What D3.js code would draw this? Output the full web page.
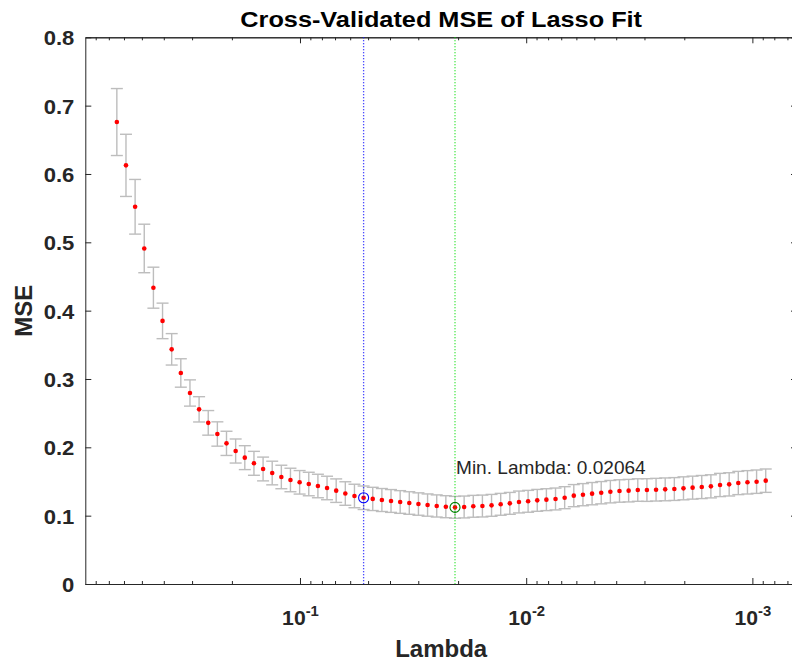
<!DOCTYPE html>
<html>
<head>
<meta charset="utf-8">
<script src="https://cdn.jsdelivr.net/npm/d3@7"></script>
<style>
  body { margin: 0; background: #fff; }
  text { font-family: "Liberation Sans", Arial, Helvetica, sans-serif; }
</style>
</head>
<body>
<div id="chart"></div>
<script>
// lambda values (x)
var lambdas = [0.6452, 0.5879, 0.5357, 0.4881, 0.4447, 0.4052, 0.3692, 0.3364, 0.3065, 0.2793,
    0.2545, 0.2319, 0.2113, 0.1925, 0.1754, 0.1598, 0.1456, 0.1327, 0.1209, 0.1102,
    0.10037, 0.091458, 0.083332, 0.075930, 0.069183, 0.063038, 0.057438, 0.052335, 0.047686, 0.043449,
    0.039590, 0.036073, 0.032868, 0.029948, 0.027287, 0.024863, 0.022655, 0.020640, 0.018808, 0.017137,
    0.015615, 0.014228, 0.012964, 0.011812, 0.010763, 0.0098067, 0.0089355, 0.0081416, 0.0074184, 0.0067593,
    0.0061589, 0.0056118, 0.0051132, 0.0046590, 0.0042450, 0.0038679, 0.0035244, 0.0032112, 0.0029260, 0.0026660,
    0.0024292, 0.0022134, 0.0020167, 0.0018376, 0.0016743, 0.0015256, 0.0013901, 0.0012666, 0.0011541, 0.0010515,
    0.00095812, 0.00087301];

// cross-validated MSE
var mse = [0.676, 0.6126, 0.552, 0.491, 0.4336, 0.385, 0.3434, 0.3088, 0.2795, 0.2556,
    0.2358, 0.2195, 0.2058, 0.1946, 0.1849, 0.1766, 0.1683, 0.1624, 0.1566, 0.1522,
    0.1488, 0.1463, 0.1434, 0.1405, 0.1366, 0.1324, 0.1288, 0.1262, 0.1245, 0.1229,
    0.1215, 0.1200, 0.1185, 0.1170, 0.1155, 0.1142, 0.1131, 0.1122, 0.1127, 0.1137,
    0.1141, 0.1151, 0.1166, 0.1180, 0.1200, 0.1210, 0.1224, 0.1234, 0.1244, 0.1263,
    0.1293, 0.1307, 0.1322, 0.1336, 0.1351, 0.1361, 0.1366, 0.1375, 0.1375, 0.1380,
    0.1385, 0.1390, 0.1400, 0.1410, 0.1419, 0.1429, 0.1449, 0.1458, 0.1478, 0.1488,
    0.1497, 0.1512];

// standard error of MSE
var se = [0.049, 0.0455, 0.040, 0.0355, 0.030, 0.026, 0.023, 0.0208, 0.0192, 0.0185,
    0.018, 0.0178, 0.0177, 0.0176, 0.0175, 0.0175, 0.0174, 0.0173, 0.0172, 0.0172,
    0.0172, 0.0172, 0.0172, 0.0172, 0.0172, 0.0172, 0.0172, 0.0172, 0.0170, 0.0168,
    0.0167, 0.0166, 0.0165, 0.0164, 0.0163, 0.0162, 0.0161, 0.0160, 0.0160, 0.0160,
    0.0160, 0.0160, 0.0160, 0.0160, 0.0160, 0.0160, 0.0160, 0.0160, 0.0160, 0.0161,
    0.0162, 0.0162, 0.0163, 0.0163, 0.0164, 0.0164, 0.0165, 0.0165, 0.0166, 0.0166,
    0.0167, 0.0167, 0.0168, 0.0168, 0.0169, 0.0169, 0.0170, 0.0170, 0.0170, 0.0171,
    0.0171, 0.0171];

var yTicks = [0, 0.1, 0.2, 0.3, 0.4, 0.5, 0.6, 0.7, 0.8];
var xMajor = [0.1, 0.01, 0.001];
var xMajorLabels = [["10", "-1"], ["10", "-2"], ["10", "-3"]];
var idxMin = 37, idx1SE = 27;
var minLabel = "Min. Lambda: 0.02064";

var W = 792, H = 668;
var pLeft = 85.3, pRight = 797, pTop = 37.3, pBottom = 584;
var axisColor = "#262626";

var svg = d3.select("#chart").append("svg").attr("width", W).attr("height", H);

var x = d3.scaleLog().domain([0.8895, 0.000635]).range([pLeft, pRight]);
var y = d3.scaleLinear().domain([0, 0.8]).range([pBottom, pTop]);

var minor = x.ticks().filter(function (t) {
    return xMajor.indexOf(t) < 0 && t < 0.8896 && t > 0.000635;
});

//axes (ticks inward, like matlab)
function styleAxis(g) {
    g.select(".domain").attr("stroke", axisColor).attr("stroke-width", 1);
    g.selectAll(".tick line").attr("stroke", axisColor);
}
svg.append("g").attr("transform", "translate(0," + pBottom + ")")
    .call(d3.axisBottom(x).tickValues(minor).tickSize(-3).tickSizeOuter(0).tickFormat(""))
    .call(styleAxis);
var xb = svg.append("g").attr("transform", "translate(0," + pBottom + ")")
    .call(d3.axisBottom(x).tickValues(xMajor).tickSize(-6).tickSizeOuter(0).tickFormat(""))
    .call(styleAxis);
svg.append("g").attr("transform", "translate(0," + pTop + ")")
    .call(d3.axisTop(x).tickValues(minor).tickSize(-3).tickSizeOuter(0).tickFormat(""))
    .call(styleAxis);
svg.append("g").attr("transform", "translate(0," + pTop + ")")
    .call(d3.axisTop(x).tickValues(xMajor).tickSize(-6).tickSizeOuter(0).tickFormat(""))
    .call(styleAxis);
var yl = svg.append("g").attr("transform", "translate(" + pLeft + ",0)")
    .call(d3.axisLeft(y).tickValues(yTicks).tickSize(-6).tickSizeOuter(0).tickPadding(10.5)
        .tickFormat(function (d) { return d === 0 ? "0" : d3.format(".1f")(d); }))
    .call(styleAxis);
svg.append("g").attr("transform", "translate(" + pRight + ",0)")
    .call(d3.axisRight(y).tickValues(yTicks).tickSize(-6).tickSizeOuter(0).tickFormat(""))
    .call(styleAxis);

yl.selectAll(".tick text")
    .attr("fill", axisColor)
    .attr("font-size", 21).attr("font-weight", "bold")
    .attr("font-family", "Liberation Sans, Arial, sans-serif")
    .attr("dy", "0.36em")
    .attr("transform", "scale(1.05,1)");

// x labels 10^-k
xb.selectAll(".tick").each(function (d, i) {
    var t = d3.select(this).append("text")
        .attr("fill", axisColor)
        .attr("font-size", 20).attr("font-weight", "bold")
        .attr("font-family", "Liberation Sans, Arial, sans-serif")
        .attr("text-anchor", "middle")
        .attr("transform", "translate(0,41) scale(1.06,1)");
    t.append("tspan").text(xMajorLabels[i][0]);
    t.append("tspan").attr("font-size", 14).attr("dy", -9.5).text(xMajorLabels[i][1]);
});

// error bars
var eb = svg.append("g").attr("stroke", "#bdbdbd").attr("stroke-width", 1.4).attr("fill", "none");
var capW = 6;
lambdas.forEach(function (l, i) {
    var cx = x(l);
    var y1 = y(mse[i] + se[i]), y0 = y(mse[i] - se[i]);
    eb.append("line").attr("x1", cx).attr("x2", cx).attr("y1", y1).attr("y2", y0);
    eb.append("line").attr("x1", cx - capW).attr("x2", cx + capW).attr("y1", y1).attr("y2", y1);
    eb.append("line").attr("x1", cx - capW).attr("x2", cx + capW).attr("y1", y0).attr("y2", y0);
});

// red points
svg.append("g").selectAll("circle")
    .data(lambdas)
    .enter()
    .append("circle")
    .attr("cx", function (d) { return x(d); })
    .attr("cy", function (d, i) { return y(mse[i]); })
    .attr("r", 2.3)
    .attr("fill", "#ff0000");

// dotted lines at 1SE and min lambda
svg.append("line")
    .attr("x1", x(lambdas[idx1SE])).attr("x2", x(lambdas[idx1SE]))
    .attr("y1", pTop).attr("y2", pBottom)
    .attr("stroke", "#1010ff").attr("stroke-width", 1.3).attr("stroke-dasharray", "1,2");
svg.append("line")
    .attr("x1", x(lambdas[idxMin])).attr("x2", x(lambdas[idxMin]))
    .attr("y1", pTop).attr("y2", pBottom)
    .attr("stroke", "#00dd00").attr("stroke-width", 1.2).attr("stroke-dasharray", "1,2");

svg.append("circle")
    .attr("cx", x(lambdas[idx1SE])).attr("cy", y(mse[idx1SE])).attr("r", 5)
    .attr("fill", "none").attr("stroke", "#0000ff").attr("stroke-width", 1.1);
svg.append("circle")
    .attr("cx", x(lambdas[idxMin])).attr("cy", y(mse[idxMin])).attr("r", 5)
    .attr("fill", "none").attr("stroke", "#008000").attr("stroke-width", 1.1);

svg.append("text")
    .attr("transform", "translate(" + (x(lambdas[idxMin]) + 1) + ",474) scale(1.06,1)")
    .attr("font-size", 18).attr("fill", axisColor)
    .text(minLabel);

// title and axis labels
svg.append("text")
    .attr("transform", "translate(" + ((pLeft + pRight) / 2) + ",27) scale(1.15,1)")
    .attr("text-anchor", "middle").attr("font-size", 22).attr("font-weight", "bold")
    .attr("fill", "#000")
    .text("Cross-Validated MSE of Lasso Fit");
svg.append("text")
    .attr("x", (pLeft + pRight) / 2).attr("y", 657)
    .attr("text-anchor", "middle").attr("font-size", 24).attr("font-weight", "bold")
    .attr("fill", axisColor)
    .text("Lambda");
svg.append("text")
    .attr("transform", "translate(32," + ((pTop + pBottom) / 2) + ") rotate(-90)")
    .attr("text-anchor", "middle").attr("font-size", 24).attr("font-weight", "bold")
    .attr("fill", axisColor)
    .text("MSE");
</script>
</body>
</html>
